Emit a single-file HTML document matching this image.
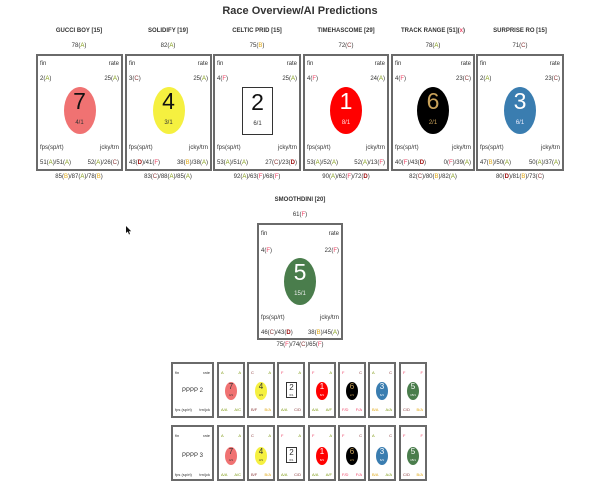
<!DOCTYPE html>
<html><head><meta charset="utf-8"><style>
*{margin:0;padding:0;box-sizing:border-box}
body{width:600px;height:490px;background:#fff;position:relative;overflow:hidden;font-family:"Liberation Sans",sans-serif;color:#333}
.t{position:absolute;white-space:nowrap;font-size:6px;line-height:7px}
.c{transform:translateX(-50%)}
.b{font-weight:bold}
.A{color:#7f9a12}.B{color:#e0a814}.C{color:#8a3a3a}.D{color:#9a0a0a;font-weight:bold}.F{color:#ee4466}
.card{position:absolute;border:2px solid #6a6a6a;background:#fff}
.card .t{font-size:6px}
.l{left:2px}.r{right:2px}
.ov{position:absolute;border-radius:50%;transform:translateX(-50%);left:50%}
.num{position:absolute;left:0;right:0;text-align:center;font-size:23px;line-height:23px}
.odd{position:absolute;left:0;right:0;text-align:center;font-size:6px;line-height:7px}
.sm{position:absolute;border:2px solid #6a6a6a;background:#fff;width:28px;height:56px}
.sm .t{font-size:4px;line-height:5px}
.so{position:absolute;border-radius:50%;left:50%;transform:translateX(-50%);top:18px;width:12px;height:18px}
.so .n{position:absolute;left:0;right:0;top:0;text-align:center;font-size:8px;line-height:9px}
.so .o{position:absolute;left:0;right:0;top:11px;text-align:center;font-size:3px;line-height:4px}
</style></head><body>
<div class="t b c" style="left:300px;top:5px;font-size:11px;line-height:13px;color:#333">Race Overview/AI Predictions</div>

<div class="t b c" style="left:79px;top:28px">GUCCI BOY [15]</div>
<div class="t b c" style="left:168px;top:28px">SOLIDIFY [19]</div>
<div class="t b c" style="left:257px;top:28px">CELTIC PRID [15]</div>
<div class="t b c" style="left:346px;top:28px">TIMEHASCOME [29]</div>
<div class="t b c" style="left:433px;top:28px">TRACK RANGE [51](<span class="F">x</span>)</div>
<div class="t b c" style="left:520px;top:28px">SURPRISE RO [15]</div>

<div class="t c" style="left:79px;top:43px">78(<span class="A">A</span>)</div>
<div class="t c" style="left:168px;top:43px">82(<span class="A">A</span>)</div>
<div class="t c" style="left:257px;top:43px">75(<span class="B">B</span>)</div>
<div class="t c" style="left:346px;top:43px">72(<span class="C">C</span>)</div>
<div class="t c" style="left:433px;top:43px">78(<span class="A">A</span>)</div>
<div class="t c" style="left:520px;top:43px">71(<span class="C">C</span>)</div>

<div class="card" style="left:36px;top:54px;width:87px;height:117px">
<div class="t l" style="top:5px">fin</div><div class="t r" style="top:5px">rate</div>
<div class="t l" style="top:20px">2(<span class="A">A</span>)</div><div class="t r" style="top:20px">25(<span class="A">A</span>)</div>
<div class="ov" style="top:31px;width:32px;height:47px;background:#f07272"><div class="num" style="top:3px;color:#111">7</div><div class="odd" style="top:33px;color:#333">4/1</div></div>
<div class="t l" style="top:89px">fps(sp/rt)</div><div class="t r" style="top:89px">jcky/trn</div>
<div class="t l" style="top:104px">51(<span class="A">A</span>)/51(<span class="A">A</span>)</div><div class="t r" style="top:104px">52(<span class="A">A</span>)/26(<span class="C">C</span>)</div>
</div>
<div class="card" style="left:125px;top:54px;width:87px;height:117px">
<div class="t l" style="top:5px">fin</div><div class="t r" style="top:5px">rate</div>
<div class="t l" style="top:20px">3(<span class="C">C</span>)</div><div class="t r" style="top:20px">25(<span class="A">A</span>)</div>
<div class="ov" style="top:31px;width:32px;height:47px;background:#f5f040"><div class="num" style="top:3px;color:#111">4</div><div class="odd" style="top:33px;color:#333">3/1</div></div>
<div class="t l" style="top:89px">fps(sp/rt)</div><div class="t r" style="top:89px">jcky/trn</div>
<div class="t l" style="top:104px">43(<span class="D">D</span>)/41(<span class="F">F</span>)</div><div class="t r" style="top:104px">38(<span class="B">B</span>)/38(<span class="A">A</span>)</div>
</div>
<div class="card" style="left:213px;top:54px;width:88px;height:117px">
<div class="t l" style="top:5px">fin</div><div class="t r" style="top:5px">rate</div>
<div class="t l" style="top:20px">4(<span class="F">F</span>)</div><div class="t r" style="top:20px">25(<span class="A">A</span>)</div>
<div style="position:absolute;left:27px;top:31px;width:31px;height:48px;border:1.5px solid #333"><div class="num" style="top:3px;color:#111">2</div><div class="odd" style="top:33px;color:#333">6/1</div></div>
<div class="t l" style="top:89px">fps(sp/rt)</div><div class="t r" style="top:89px">jcky/trn</div>
<div class="t l" style="top:104px">53(<span class="A">A</span>)/51(<span class="A">A</span>)</div><div class="t r" style="top:104px">27(<span class="C">C</span>)/23(<span class="D">D</span>)</div>
</div>
<div class="card" style="left:303px;top:54px;width:86px;height:117px">
<div class="t l" style="top:5px">fin</div><div class="t r" style="top:5px">rate</div>
<div class="t l" style="top:20px">4(<span class="F">F</span>)</div><div class="t r" style="top:20px">24(<span class="A">A</span>)</div>
<div class="ov" style="top:31px;width:32px;height:47px;background:#ff0000"><div class="num" style="top:3px;color:#fff">1</div><div class="odd" style="top:33px;color:#fdd">8/1</div></div>
<div class="t l" style="top:89px">fps(sp/rt)</div><div class="t r" style="top:89px">jcky/trn</div>
<div class="t l" style="top:104px">53(<span class="A">A</span>)/52(<span class="A">A</span>)</div><div class="t r" style="top:104px">52(<span class="A">A</span>)/13(<span class="F">F</span>)</div>
</div>
<div class="card" style="left:391px;top:54px;width:84px;height:117px">
<div class="t l" style="top:5px">fin</div><div class="t r" style="top:5px">rate</div>
<div class="t l" style="top:20px">4(<span class="F">F</span>)</div><div class="t r" style="top:20px">23(<span class="C">C</span>)</div>
<div class="ov" style="top:31px;width:32px;height:47px;background:#000"><div class="num" style="top:3px;color:#c9a25a">6</div><div class="odd" style="top:33px;color:#c9a25a">2/1</div></div>
<div class="t l" style="top:89px">fps(sp/rt)</div><div class="t r" style="top:89px">jcky/trn</div>
<div class="t l" style="top:104px">40(<span class="F">F</span>)/43(<span class="D">D</span>)</div><div class="t r" style="top:104px">0(<span class="F">F</span>)/39(<span class="A">A</span>)</div>
</div>
<div class="card" style="left:476px;top:54px;width:88px;height:117px">
<div class="t l" style="top:5px">fin</div><div class="t r" style="top:5px">rate</div>
<div class="t l" style="top:20px">2(<span class="A">A</span>)</div><div class="t r" style="top:20px">23(<span class="C">C</span>)</div>
<div class="ov" style="top:31px;width:32px;height:47px;background:#3a7db0"><div class="num" style="top:3px;color:#fff">3</div><div class="odd" style="top:33px;color:#eef">6/1</div></div>
<div class="t l" style="top:89px">fps(sp/rt)</div><div class="t r" style="top:89px">jcky/trn</div>
<div class="t l" style="top:104px">47(<span class="B">B</span>)/50(<span class="A">A</span>)</div><div class="t r" style="top:104px">50(<span class="A">A</span>)/37(<span class="A">A</span>)</div>
</div>

<div class="t c" style="left:79px;top:174px">85(<span class="B">B</span>)/87(<span class="A">A</span>)/78(<span class="B">B</span>)</div>
<div class="t c" style="left:168px;top:174px">83(<span class="C">C</span>)/88(<span class="A">A</span>)/85(<span class="A">A</span>)</div>
<div class="t c" style="left:257px;top:174px">92(<span class="A">A</span>)/63(<span class="F">F</span>)/68(<span class="F">F</span>)</div>
<div class="t c" style="left:346px;top:174px">90(<span class="A">A</span>)/62(<span class="F">F</span>)/72(<span class="D">D</span>)</div>
<div class="t c" style="left:433px;top:174px">82(<span class="C">C</span>)/80(<span class="B">B</span>)/82(<span class="A">A</span>)</div>
<div class="t c" style="left:520px;top:174px">80(<span class="D">D</span>)/81(<span class="B">B</span>)/73(<span class="C">C</span>)</div>

<div class="t b c" style="left:300px;top:197px">SMOOTHDINI [20]</div>
<div class="t c" style="left:300px;top:212px">61(<span class="F">F</span>)</div>
<div class="card" style="left:257px;top:223px;width:86px;height:117px">
<div class="t l" style="top:6px">fin</div><div class="t r" style="top:6px">rate</div>
<div class="t l" style="top:23px">4(<span class="F">F</span>)</div><div class="t r" style="top:23px">22(<span class="F">F</span>)</div>
<div class="ov" style="top:33px;width:32px;height:47px;background:#4a7d4c"><div class="num" style="top:3px;color:#fff">5</div><div class="odd" style="top:33px;color:#eee">15/1</div></div>
<div class="t l" style="top:90px">fps(sp/rt)</div><div class="t r" style="top:90px">jcky/trn</div>
<div class="t l" style="top:105px">46(<span class="C">C</span>)/43(<span class="D">D</span>)</div><div class="t r" style="top:105px">38(<span class="B">B</span>)/45(<span class="A">A</span>)</div>
</div>
<div class="t c" style="left:300px;top:342px">75(<span class="F">F</span>)/74(<span class="C">C</span>)/65(<span class="F">F</span>)</div>

<svg style="position:absolute;left:126px;top:226px" width="6" height="9" viewBox="0 0 6 9"><path d="M0 0 L0 7 L1.8 5.5 L3 8.5 L4 8 L2.9 5.2 L5.2 5.2 Z" fill="#111"/></svg>

<div class="sm" style="left:171px;top:362px;width:43px">
<div class="t" style="left:2px;top:6px">fin</div><div class="t" style="right:2px;top:6px">rate</div>
<div class="t c" style="left:50%;top:24px;font-size:6px;line-height:7px">PPPP 2</div>
<div class="t" style="left:2px;top:43px">fps (sp/rt)</div><div class="t" style="right:2px;top:43px">trn/jck</div></div>
<div class="sm" style="left:217px;top:362px"><div class="t A" style="left:2px;top:6px">A</div><div class="t A" style="right:2px;top:6px">A</div><div class="so" style="background:#f07272"><div class="n">7</div><div class="o">4/1</div></div><div class="t A" style="left:2px;top:43px">A/A</div><div class="t A" style="right:2px;top:43px">A/C</div></div>
<div class="sm" style="left:247px;top:362px"><div class="t C" style="left:2px;top:6px">C</div><div class="t A" style="right:2px;top:6px">A</div><div class="so" style="background:#f5f040"><div class="n">4</div><div class="o">3/1</div></div><div class="t C" style="left:2px;top:43px">B/F</div><div class="t B" style="right:2px;top:43px">B/A</div></div>
<div class="sm" style="left:277px;top:362px"><div class="t F" style="left:2px;top:6px">F</div><div class="t A" style="right:2px;top:6px">A</div><div style="position:absolute;left:7px;top:18px;width:11px;height:16px;border:1px solid #333"><div style="position:absolute;left:0;right:0;top:0;text-align:center;font-size:8px;line-height:9px">2</div><div style="position:absolute;left:0;right:0;top:10px;text-align:center;font-size:3px;line-height:4px">6/1</div></div><div class="t A" style="left:2px;top:43px">A/A</div><div class="t C" style="right:2px;top:43px">C/D</div></div>
<div class="sm" style="left:308px;top:362px"><div class="t F" style="left:2px;top:6px">F</div><div class="t A" style="right:2px;top:6px">A</div><div class="so" style="background:#f00;color:#fff"><div class="n">1</div><div class="o">8/1</div></div><div class="t A" style="left:2px;top:43px">A/A</div><div class="t A" style="right:2px;top:43px">A/F</div></div>
<div class="sm" style="left:338px;top:362px"><div class="t F" style="left:2px;top:6px">F</div><div class="t C" style="right:2px;top:6px">C</div><div class="so" style="background:#000;color:#c9a25a"><div class="n">6</div><div class="o">2/1</div></div><div class="t F" style="left:2px;top:43px">F/D</div><div class="t F" style="right:2px;top:43px">F/A</div></div>
<div class="sm" style="left:368px;top:362px"><div class="t A" style="left:2px;top:6px">A</div><div class="t C" style="right:2px;top:6px">C</div><div class="so" style="background:#3a7db0;color:#fff"><div class="n">3</div><div class="o">6/1</div></div><div class="t B" style="left:2px;top:43px">B/A</div><div class="t A" style="right:2px;top:43px">A/A</div></div>
<div class="sm" style="left:399px;top:362px"><div class="t F" style="left:2px;top:6px">F</div><div class="t F" style="right:2px;top:6px">F</div><div class="so" style="background:#4a7d4c;color:#fff"><div class="n">5</div><div class="o">15/1</div></div><div class="t C" style="left:2px;top:43px">C/D</div><div class="t B" style="right:2px;top:43px">B/A</div></div>

<div class="sm" style="left:171px;top:425px;width:43px">
<div class="t" style="left:2px;top:6px">fin</div><div class="t" style="right:2px;top:6px">rate</div>
<div class="t c" style="left:50%;top:26px;font-size:6px;line-height:7px">PPPP 3</div>
<div class="t" style="left:2px;top:45px">fps (sp/rt)</div><div class="t" style="right:2px;top:45px">trn/jck</div></div>
<div class="sm" style="left:217px;top:425px"><div class="t A" style="left:2px;top:6px">A</div><div class="t A" style="right:2px;top:6px">A</div><div class="so" style="background:#f07272;top:20px"><div class="n">7</div><div class="o">4/1</div></div><div class="t A" style="left:2px;top:45px">A/A</div><div class="t A" style="right:2px;top:45px">A/C</div></div>
<div class="sm" style="left:247px;top:425px"><div class="t C" style="left:2px;top:6px">C</div><div class="t A" style="right:2px;top:6px">A</div><div class="so" style="background:#f5f040;top:20px"><div class="n">4</div><div class="o">3/1</div></div><div class="t C" style="left:2px;top:45px">B/F</div><div class="t B" style="right:2px;top:45px">B/A</div></div>
<div class="sm" style="left:277px;top:425px"><div class="t F" style="left:2px;top:6px">F</div><div class="t A" style="right:2px;top:6px">A</div><div style="position:absolute;left:7px;top:20px;width:11px;height:16px;border:1px solid #333"><div style="position:absolute;left:0;right:0;top:0;text-align:center;font-size:8px;line-height:9px">2</div><div style="position:absolute;left:0;right:0;top:10px;text-align:center;font-size:3px;line-height:4px">6/1</div></div><div class="t A" style="left:2px;top:45px">A/A</div><div class="t C" style="right:2px;top:45px">C/D</div></div>
<div class="sm" style="left:308px;top:425px"><div class="t F" style="left:2px;top:6px">F</div><div class="t A" style="right:2px;top:6px">A</div><div class="so" style="background:#f00;color:#fff;top:20px"><div class="n">1</div><div class="o">8/1</div></div><div class="t A" style="left:2px;top:45px">A/A</div><div class="t A" style="right:2px;top:45px">A/F</div></div>
<div class="sm" style="left:338px;top:425px"><div class="t F" style="left:2px;top:6px">F</div><div class="t C" style="right:2px;top:6px">C</div><div class="so" style="background:#000;color:#c9a25a;top:20px"><div class="n">6</div><div class="o">2/1</div></div><div class="t F" style="left:2px;top:45px">F/D</div><div class="t F" style="right:2px;top:45px">F/A</div></div>
<div class="sm" style="left:368px;top:425px"><div class="t A" style="left:2px;top:6px">A</div><div class="t C" style="right:2px;top:6px">C</div><div class="so" style="background:#3a7db0;color:#fff;top:20px"><div class="n">3</div><div class="o">6/1</div></div><div class="t B" style="left:2px;top:45px">B/A</div><div class="t A" style="right:2px;top:45px">A/A</div></div>
<div class="sm" style="left:399px;top:425px"><div class="t F" style="left:2px;top:6px">F</div><div class="t F" style="right:2px;top:6px">F</div><div class="so" style="background:#4a7d4c;color:#fff;top:20px"><div class="n">5</div><div class="o">15/1</div></div><div class="t C" style="left:2px;top:45px">C/D</div><div class="t B" style="right:2px;top:45px">B/A</div></div>
</body></html>
